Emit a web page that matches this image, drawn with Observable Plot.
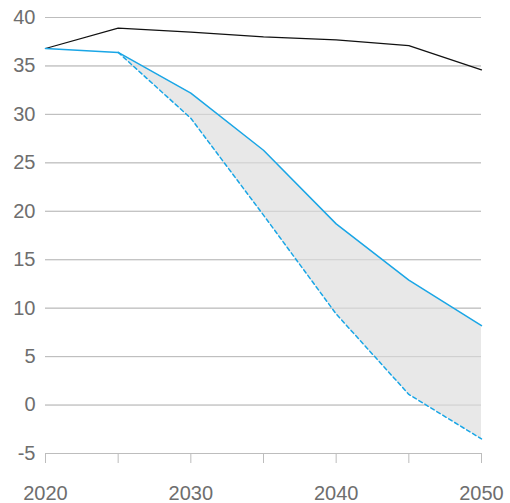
<!DOCTYPE html>
<html><head><meta charset="utf-8">
<script src="https://cdn.jsdelivr.net/npm/d3@7"></script>
<script src="https://cdn.jsdelivr.net/npm/@observablehq/plot@0.6"></script>
<style>body{margin:0;background:#fff}</style>
</head><body><div id="chart"></div>
<script>
const years = [2020, 2025, 2030, 2035, 2040, 2045, 2050];
const reference = [36.8, 38.9, 38.5, 38.0, 37.7, 37.1, 34.6];
const current = [36.8, 36.4, 32.2, 26.3, 18.7, 12.9, 8.2];
const pledged = [null, 36.4, 29.6, 19.6, 9.4, 1.1, -3.5];
const yTicks = [-5, 0, 5, 10, 15, 20, 25, 30, 35, 40];
const xTicks = [2020, 2025, 2030, 2035, 2040, 2045, 2050];
const xLabels = [2020, 2030, 2040, 2050];

const rows = years.map((y, i) => ({year: y, ref: reference[i], cur: current[i], pl: pledged[i]}));
const band = rows.filter(d => d.pl != null);
const blue = "#1aa6e6";
const gray = "#6e6e6e";

const chart = Plot.plot({
  width: 510, height: 503,
  marginLeft: 45, marginRight: 29, marginTop: 17, marginBottom: 50,
  style: {fontFamily: "'Liberation Sans', Arial, sans-serif", fontSize: "20px", color: gray, background: "#fff"},
  x: {domain: [2020, 2050], label: null},
  y: {domain: [-5, 40], label: null},
  marks: [
    Plot.gridY(yTicks, {stroke: "#bdbdbd", strokeOpacity: 1, strokeWidth: 1}),
    Plot.areaY(band, {x: "year", y1: "pl", y2: "cur", fill: "#e8e8e8"}),
    Plot.gridY(yTicks, {stroke: "#bdbdbd", strokeOpacity: 0.6, strokeWidth: 1}),
    Plot.axisY(yTicks, {tickSize: 0, tickPadding: 10, tickFormat: d => String(d), fill: gray, fontSize: 20, label: null}),
    Plot.axisX(xTicks, {tickSize: 10, tickFormat: () => "", stroke: "#bdbdbd", strokeOpacity: 1, label: null}),
    Plot.axisX(xLabels, {tickSize: 0, tickPadding: 32, tickFormat: "d", fill: gray, fontSize: 20, label: null}),
    Plot.ruleY([-5], {stroke: "#bdbdbd"}),
    Plot.line(rows, {x: "year", y: "ref", stroke: "#111", strokeWidth: 1.2}),
    Plot.line(band, {x: "year", y: "pl", stroke: blue, strokeWidth: 1.5, strokeDasharray: "4,3"}),
    Plot.line(rows, {x: "year", y: "cur", stroke: blue, strokeWidth: 1.5})
  ]
});
document.getElementById("chart").appendChild(chart);
</script></body></html>
